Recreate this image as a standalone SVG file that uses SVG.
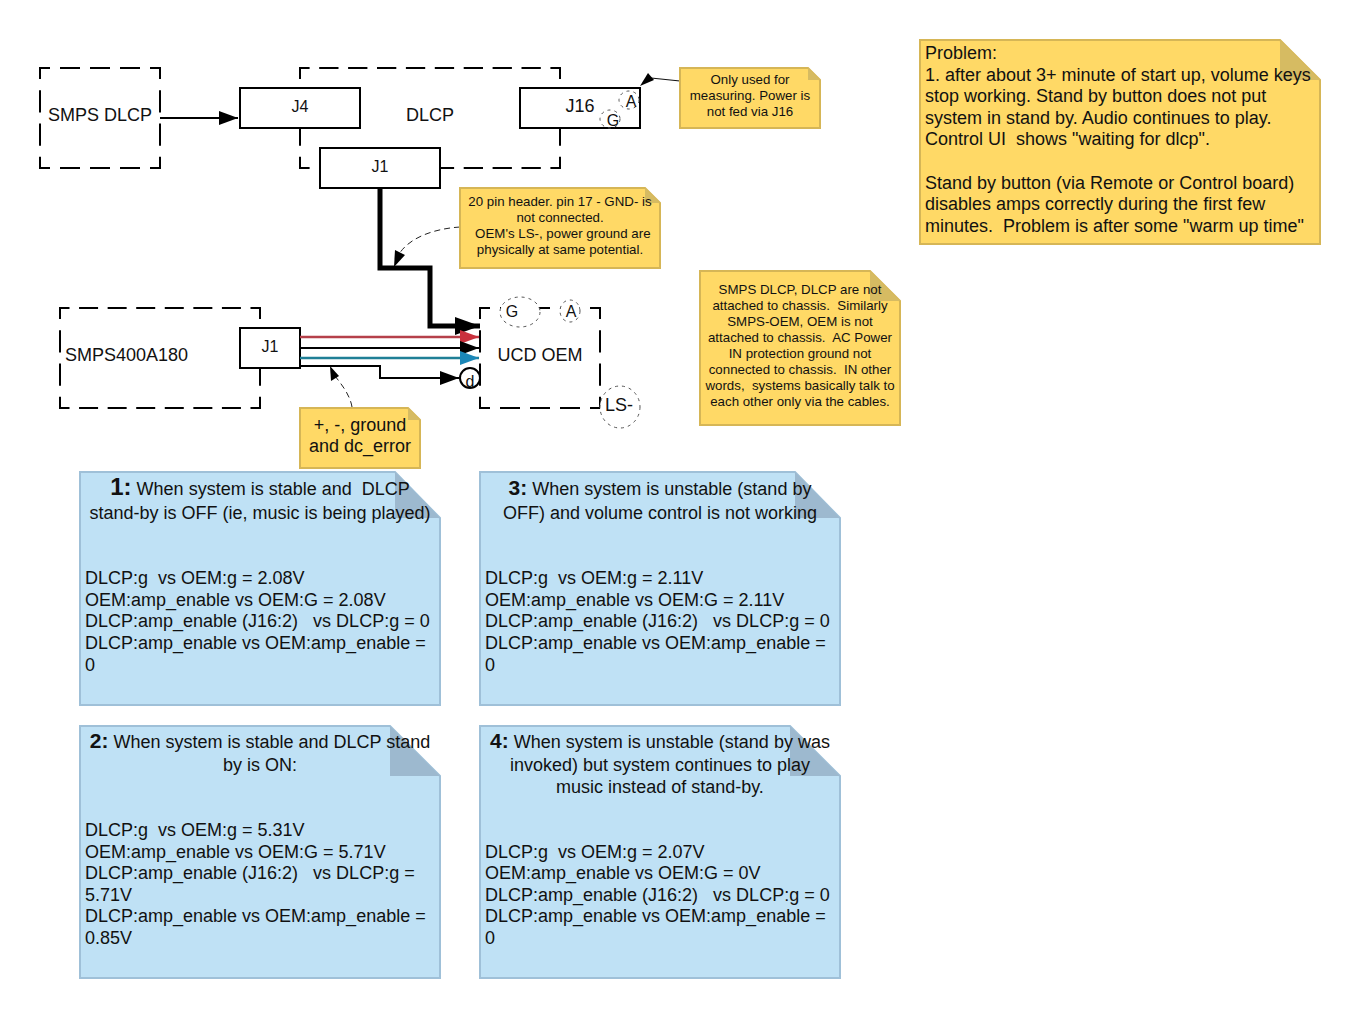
<svg xmlns="http://www.w3.org/2000/svg" width="1360" height="1018" viewBox="0 0 1360 1018">
<style>
text{font-family:"Liberation Sans",Arial,sans-serif;fill:#111;white-space:pre}
.c{text-anchor:middle}
.f16{font-size:16px}.f17{font-size:18px}.f13{font-size:13.3px}
.b{font-weight:bold;font-size:24px}
.e{fill:#fff;stroke:none}
.d{fill:none;stroke:#000;stroke-width:2;stroke-linecap:square}
.h120{stroke-dasharray:18 12;stroke-dashoffset:9}
.v100{stroke-dasharray:20.2 13.1;stroke-dashoffset:10.1}
.h260{stroke-dasharray:17.3 11.6;stroke-dashoffset:8.7}
.h200{stroke-dasharray:17 11.57;stroke-dashoffset:8.5}
.box{fill:#fff;stroke:#000;stroke-width:2}
.y{fill:#ffd966;stroke:#d6b656;stroke-width:2}
.yf{fill:#d6bb62}
.bl{fill:#bfe1f5;stroke:#9fc0d8;stroke-width:2}
.blf{fill:#9db9cf}
.dot{fill:#fff;stroke:#555;stroke-width:1;stroke-dasharray:3 4}
.ln{fill:none;stroke:#000;stroke-width:2}
.thin{fill:none;stroke:#222;stroke-width:1;stroke-dasharray:6 4}
</style>
<defs>
<marker id="a" markerUnits="userSpaceOnUse" markerWidth="20" markerHeight="14" refX="19" refY="7" orient="auto"><path d="M0 0L19 7L0 14z" fill="#000"/></marker>
<marker id="ar" markerUnits="userSpaceOnUse" markerWidth="20" markerHeight="14" refX="19" refY="7" orient="auto"><path d="M0 0L19 7L0 14z" fill="#c9313d"/></marker>
<marker id="ab" markerUnits="userSpaceOnUse" markerWidth="20" markerHeight="14" refX="19" refY="7" orient="auto"><path d="M0 0L19 7L0 14z" fill="#1b87b8"/></marker>
<marker id="at" markerUnits="userSpaceOnUse" markerWidth="26" markerHeight="18" refX="25" refY="9" orient="auto"><path d="M0 0L25 9L0 18z" fill="#000"/></marker>
</defs>

<g id="smps-dlcp"><rect class="e" x="40" y="68" width="120" height="100"/><path class="d h120" d="M40 68H160M40 168H160"/><path class="d v100" d="M40 68V168M160 68V168"/><text class="f17 c" x="100" y="121">SMPS DLCP</text></g>
<g id="dlcp"><rect class="e" x="300" y="68" width="260" height="100"/><path class="d h260" d="M300 68H560M300 168H560"/><path class="d v100" d="M300 68V168M560 68V168"/><text class="f17 c" x="430" y="121">DLCP</text></g>
<g id="j4"><rect class="box" x="240" y="88" width="120" height="40"/><text class="f16 c" x="300" y="112">J4</text></g>
<g id="j16"><rect class="box" x="520" y="88" width="120" height="40"/><text class="f17 c" x="580" y="112">J16</text></g>
<g id="dlcp-j1"><rect class="box" x="320" y="148" width="120" height="40"/><text class="f16 c" x="380" y="172">J1</text></g>
<g id="j16-a"><ellipse class="dot" cx="629" cy="100" rx="10" ry="9" style="fill:none"/><text class="f16 c" x="631" y="107">A</text></g>
<g id="j16-g"><ellipse class="dot" cx="610" cy="119" rx="10" ry="9" style="fill:none"/><text class="f16 c" x="613" y="126">G</text></g>

<g id="smps400"><rect class="e" x="60" y="308" width="200" height="100"/><path class="d h200" d="M60 308H260M60 408H260"/><path class="d v100" d="M60 308V408M260 308V408"/><text class="f17" x="65" y="361">SMPS400A180</text></g>
<g id="smps-j1"><rect class="box" x="240" y="328" width="60" height="40"/><text class="f16 c" x="270" y="352">J1</text></g>
<g id="ucd"><rect class="e" x="480" y="308" width="120" height="100"/><path class="d h120" d="M480 308H600M480 408H600"/><path class="d v100" d="M480 308V408M600 308V408"/><text class="f17 c" x="540" y="361">UCD OEM</text></g>
<g id="ucd-g"><ellipse class="dot" cx="520" cy="312" rx="20" ry="15"/><text class="f16 c" x="512" y="317">G</text></g>
<g id="ucd-a"><ellipse class="dot" cx="570" cy="311" rx="10" ry="11"/><text class="f16 c" x="571" y="317">A</text></g>
<g id="ucd-ls"><ellipse class="dot" cx="620" cy="407" rx="20" ry="21"/><text class="f17 c" x="619" y="411">LS-</text></g>
<g id="ucd-d"><circle cx="470" cy="378" r="10" fill="#fff" stroke="#000" stroke-width="2"/><text class="f16 c" x="470" y="387">d</text></g>

<g id="connectors">
<path class="ln" d="M160 118H238" marker-end="url(#a)"/>
<path d="M380 188V268H430V326H480" fill="none" stroke="#000" stroke-width="5" marker-end="url(#at)"/>
<path d="M300 337H479" fill="none" stroke="#b5404a" stroke-width="2.5" marker-end="url(#ar)"/>
<path class="ln" d="M300 348H479" marker-end="url(#a)"/>
<path d="M300 358H479" fill="none" stroke="#1f7f96" stroke-width="2.5" marker-end="url(#ab)"/>
<path class="ln" d="M300 366H380V378H459" marker-end="url(#a)"/>
<path d="M680 81L651 78" fill="none" stroke="#111" stroke-width="1.2"/>
<path d="M640 86L648 73L654 80z" fill="#000"/>
<path class="thin" d="M460 227C430 229 405 240 397 258"/>
<path d="M394 267L395 250L405 255z" fill="#000"/>
<path class="thin" d="M352 407C350 395 342 385 335 376"/>
<path d="M330 366L339 376L331 381z" fill="#000"/>
</g>

<g id="note-j16"><path class="y" d="M680 68H808L820 80V128H680z"/><path class="yf" d="M808 68L820 80H808z"/>
<text class="f13 c"><tspan x="750" y="84">Only used for</tspan><tspan x="750" y="100">measuring. Power is</tspan><tspan x="750" y="116">not fed via J16</tspan></text></g>
<g id="note-pin"><path class="y" d="M460 188H645L660 203V268H460z"/><path class="yf" d="M645 188L660 203H645z"/>
<text class="f13 c"><tspan x="560" y="206">20 pin header. pin 17 - GND- is</tspan><tspan x="560" y="222">not connected.</tspan><tspan x="561" y="238"> OEM's LS-, power ground are</tspan><tspan x="560" y="254">physically at same potential.</tspan></text></g>
<g id="note-dc"><path class="y" d="M300 408H408L420 420V468H300z"/><path class="yf" d="M408 408L420 420H408z"/>
<text class="f17 c"><tspan x="360" y="431">+, -, ground</tspan><tspan x="360" y="452">and dc_error</tspan></text></g>
<g id="note-chassis"><path class="y" d="M700 271H870L900 301V425H700z"/><path class="yf" d="M870 271L900 301H870z"/>
<text class="f13 c"><tspan x="800" y="294">SMPS DLCP, DLCP are not</tspan><tspan x="800" y="310">attached to chassis.  Similarly</tspan><tspan x="800" y="326">SMPS-OEM, OEM is not</tspan><tspan x="800" y="342">attached to chassis.  AC Power</tspan><tspan x="800" y="358">IN protection ground not</tspan><tspan x="800" y="374">connected to chassis.  IN other</tspan><tspan x="800" y="390">words,  systems basically talk to</tspan><tspan x="800" y="406">each other only via the cables.</tspan></text></g>
<g id="note-problem"><path class="y" d="M920 40H1280L1320 80V244H920z"/><path class="yf" d="M1280 40L1320 80H1280z"/>
<text class="f17"><tspan x="925" y="59">Problem:</tspan><tspan x="925" y="81">1. after about 3+ minute of start up, volume keys</tspan><tspan x="925" y="102">stop working. Stand by button does not put</tspan><tspan x="925" y="124">system in stand by. Audio continues to play.</tspan><tspan x="925" y="145">Control UI  shows "waiting for dlcp".</tspan><tspan x="925" y="189">Stand by button (via Remote or Control board)</tspan><tspan x="925" y="210">disables amps correctly during the first few</tspan><tspan x="925" y="232">minutes.  Problem is after some "warm up time"</tspan></text></g>

<g id="case-1"><path class="bl" d="M80 472H395L440 518V705H80z"/><path class="blf" d="M395 472L440 518H395z"/>
<text class="f17 c"><tspan x="260" y="495"><tspan class="b">1:</tspan> When system is stable and  DLCP</tspan><tspan x="260" y="519">stand-by is OFF (ie, music is being played)</tspan></text>
<text class="f17"><tspan x="85" y="584">DLCP:g  vs OEM:g = 2.08V</tspan><tspan x="85" y="606">OEM:amp_enable vs OEM:G = 2.08V</tspan><tspan x="85" y="627">DLCP:amp_enable (J16:2)   vs DLCP:g = 0</tspan><tspan x="85" y="649">DLCP:amp_enable vs OEM:amp_enable =</tspan><tspan x="85" y="671">0</tspan></text></g>
<g id="case-3"><path class="bl" d="M480 472H795L840 518V705H480z"/><path class="blf" d="M795 472L840 518H795z"/>
<text class="f17 c"><tspan x="660" y="495"><tspan class="b" style="font-size:21px">3:</tspan> When system is unstable (stand by</tspan><tspan x="660" y="519">OFF) and volume control is not working</tspan></text>
<text class="f17"><tspan x="485" y="584">DLCP:g  vs OEM:g = 2.11V</tspan><tspan x="485" y="606">OEM:amp_enable vs OEM:G = 2.11V</tspan><tspan x="485" y="627">DLCP:amp_enable (J16:2)   vs DLCP:g = 0</tspan><tspan x="485" y="649">DLCP:amp_enable vs OEM:amp_enable =</tspan><tspan x="485" y="671">0</tspan></text></g>
<g id="case-2"><path class="bl" d="M80 726H390L440 776V978H80z"/><path class="blf" d="M390 726L440 776H390z"/>
<text class="f17 c"><tspan x="260" y="748"><tspan class="b" style="font-size:21px">2:</tspan> When system is stable and DLCP stand</tspan><tspan x="260" y="771">by is ON:</tspan></text>
<text class="f17"><tspan x="85" y="836">DLCP:g  vs OEM:g = 5.31V</tspan><tspan x="85" y="858">OEM:amp_enable vs OEM:G = 5.71V</tspan><tspan x="85" y="879">DLCP:amp_enable (J16:2)   vs DLCP:g =</tspan><tspan x="85" y="901">5.71V</tspan><tspan x="85" y="922">DLCP:amp_enable vs OEM:amp_enable =</tspan><tspan x="85" y="944">0.85V</tspan></text></g>
<g id="case-4"><path class="bl" d="M480 726H790L840 776V978H480z"/><path class="blf" d="M790 726L840 776H790z"/>
<text class="f17 c"><tspan x="660" y="748"><tspan class="b" style="font-size:21px">4:</tspan> When system is unstable (stand by was</tspan><tspan x="660" y="771">invoked) but system continues to play</tspan><tspan x="660" y="793">music instead of stand-by.</tspan></text>
<text class="f17"><tspan x="485" y="858">DLCP:g  vs OEM:g = 2.07V</tspan><tspan x="485" y="879">OEM:amp_enable vs OEM:G = 0V</tspan><tspan x="485" y="901">DLCP:amp_enable (J16:2)   vs DLCP:g = 0</tspan><tspan x="485" y="922">DLCP:amp_enable vs OEM:amp_enable =</tspan><tspan x="485" y="944">0</tspan></text></g>
</svg>
